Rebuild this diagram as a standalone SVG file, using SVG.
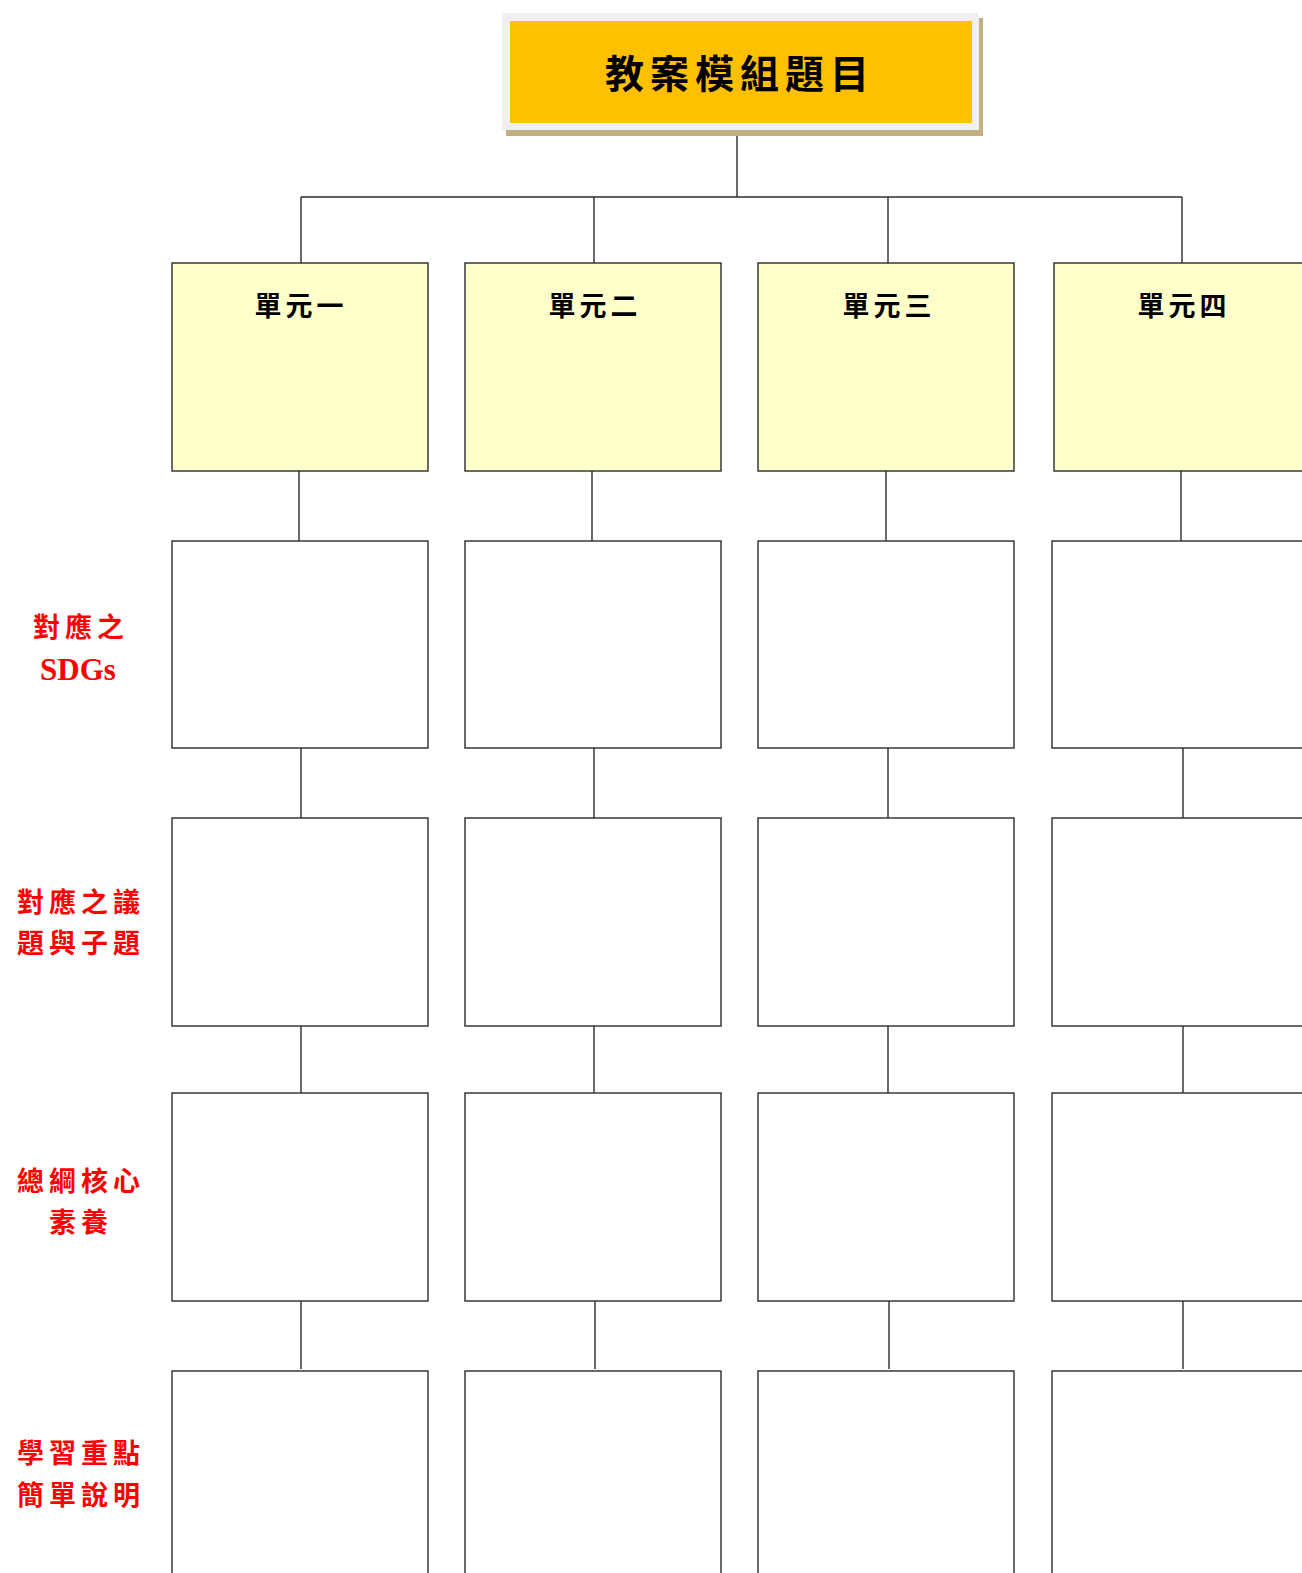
<svg xmlns="http://www.w3.org/2000/svg" width="1302" height="1573" viewBox="0 0 1302 1573">
<style>
.box{fill:#ffffff;stroke:#2b2b2b;stroke-width:1.4}
.unit{fill:#ffffcc;stroke:#2b2b2b;stroke-width:1.4}
.ln{stroke:#2b2b2b;stroke-width:1.4;fill:none}
.title{font-family:"Noto Sans CJK TC","Noto Sans CJK SC",sans-serif;font-weight:bold;font-size:39px;fill:#000;text-anchor:middle;letter-spacing:6px}
.ut{font-family:"Noto Sans CJK TC","Noto Sans CJK SC",sans-serif;font-weight:bold;font-size:27px;fill:#000;text-anchor:middle;letter-spacing:4px}
.lab{font-family:"Noto Sans CJK TC","Noto Sans CJK SC",sans-serif;font-weight:bold;font-size:27px;fill:#ff0000;text-anchor:middle;letter-spacing:5px}
.sdg{font-family:"Liberation Serif",serif;font-weight:bold;font-size:31px;fill:#ff0000;text-anchor:middle}
</style>
<rect width="1302" height="1573" fill="#ffffff"/>
<g id="connectors">
<line class="ln" x1="737" y1="128" x2="737" y2="197"/>
<line class="ln" x1="301" y1="197" x2="1182" y2="197"/>
<line class="ln" x1="301" y1="197" x2="301" y2="263"/>
<line class="ln" x1="594" y1="197" x2="594" y2="263"/>
<line class="ln" x1="888" y1="197" x2="888" y2="263"/>
<line class="ln" x1="1182" y1="197" x2="1182" y2="263"/>
<line class="ln" x1="299" y1="471" x2="299" y2="541"/>
<line class="ln" x1="592" y1="471" x2="592" y2="541"/>
<line class="ln" x1="886" y1="471" x2="886" y2="541"/>
<line class="ln" x1="1181" y1="471" x2="1181" y2="541"/>
<line class="ln" x1="301" y1="748" x2="301" y2="818"/>
<line class="ln" x1="594" y1="748" x2="594" y2="818"/>
<line class="ln" x1="888" y1="748" x2="888" y2="818"/>
<line class="ln" x1="1183" y1="748" x2="1183" y2="818"/>
<line class="ln" x1="301" y1="1026" x2="301" y2="1093"/>
<line class="ln" x1="594" y1="1026" x2="594" y2="1093"/>
<line class="ln" x1="888" y1="1026" x2="888" y2="1093"/>
<line class="ln" x1="1183" y1="1026" x2="1183" y2="1093"/>
<line class="ln" x1="301" y1="1301" x2="301" y2="1369"/>
<line class="ln" x1="595" y1="1301" x2="595" y2="1369"/>
<line class="ln" x1="889" y1="1301" x2="889" y2="1369"/>
<line class="ln" x1="1183" y1="1301" x2="1183" y2="1369"/>
</g>
<g id="top">
<rect x="506" y="18" width="477" height="118" fill="#c2b083"/>
<rect x="502" y="13" width="477" height="117" fill="#f0f0f0"/>
<rect x="510" y="21" width="462" height="102" fill="#ffc000"/>
<text class="title" x="740" y="88">教案模組題目</text>
</g>
<g id="unit1"><rect class="unit" x="172" y="263" width="256" height="208"/><text class="ut" x="301" y="316">單元一</text></g>
<g id="unit2"><rect class="unit" x="465" y="263" width="256" height="208"/><text class="ut" x="595" y="316">單元二</text></g>
<g id="unit3"><rect class="unit" x="758" y="263" width="256" height="208"/><text class="ut" x="889" y="316">單元三</text></g>
<g id="unit4"><rect class="unit" x="1054" y="263" width="260" height="208"/><text class="ut" x="1184" y="316">單元四</text></g>
<g id="row2">
<rect class="box" x="172" y="541" width="256" height="207"/>
<rect class="box" x="465" y="541" width="256" height="207"/>
<rect class="box" x="758" y="541" width="256" height="207"/>
<rect class="box" x="1052" y="541" width="262" height="207"/>
</g>
<g id="row3">
<rect class="box" x="172" y="818" width="256" height="208"/>
<rect class="box" x="465" y="818" width="256" height="208"/>
<rect class="box" x="758" y="818" width="256" height="208"/>
<rect class="box" x="1052" y="818" width="262" height="208"/>
</g>
<g id="row4">
<rect class="box" x="172" y="1093" width="256" height="208"/>
<rect class="box" x="465" y="1093" width="256" height="208"/>
<rect class="box" x="758" y="1093" width="256" height="208"/>
<rect class="box" x="1052" y="1093" width="262" height="208"/>
</g>
<g id="row5">
<rect class="box" x="172" y="1371" width="256" height="220"/>
<rect class="box" x="465" y="1371" width="256" height="220"/>
<rect class="box" x="758" y="1371" width="256" height="220"/>
<rect class="box" x="1052" y="1371" width="262" height="220"/>
</g>
<g id="labels">
<text class="lab" x="81" y="637">對應之</text>
<text class="sdg" x="78" y="680">SDGs</text>
<text class="lab" x="81" y="912">對應之議</text>
<text class="lab" x="81" y="953">題與子題</text>
<text class="lab" x="81" y="1191">總綱核心</text>
<text class="lab" x="81" y="1232">素養</text>
<text class="lab" x="81" y="1463">學習重點</text>
<text class="lab" x="81" y="1505">簡單說明</text>
</g>
</svg>
